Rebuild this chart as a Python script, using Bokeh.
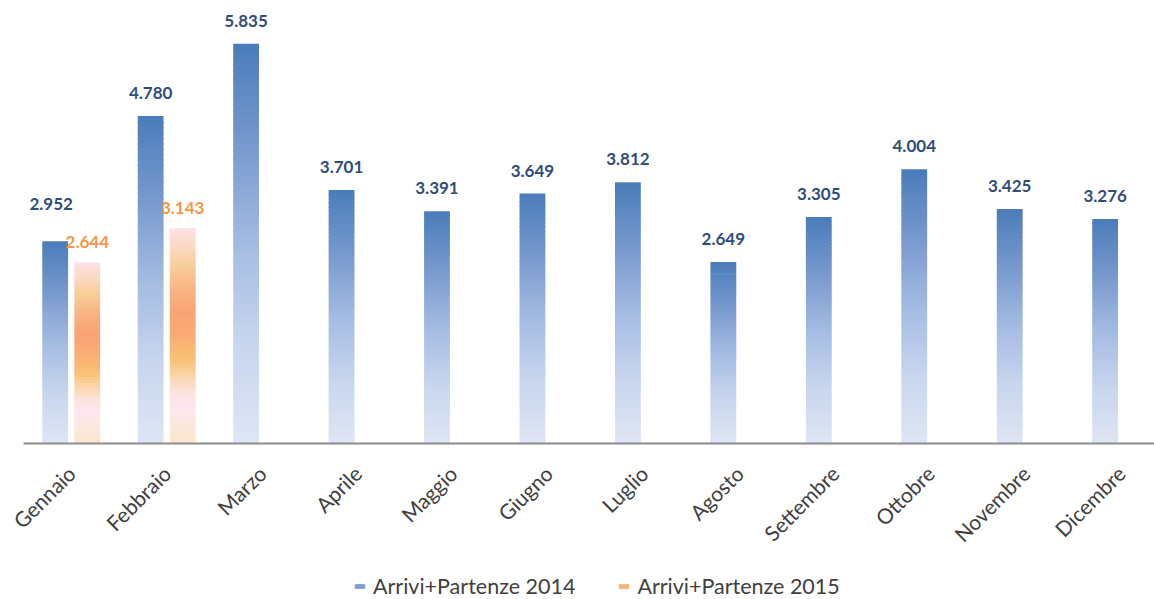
import math
from bokeh.plotting import figure
from bokeh.layouts import column
from bokeh.models import ColumnDataSource, Range1d, FixedTicker, Legend, LegendItem
from bokeh.core.properties import value
from bokeh.embed import file_html
from bokeh.resources import INLINE

months = ["Gennaio", "Febbraio", "Marzo", "Aprile", "Maggio", "Giugno",
          "Luglio", "Agosto", "Settembre", "Ottobre", "Novembre", "Dicembre"]
vals_2014 = [2952, 4780, 5835, 3701, 3391, 3649, 3812, 2649, 3305, 4004, 3425, 3276]
vals_2015 = [2644, 3143, None, None, None, None, None, None, None, None, None, None]
series_names = ["Arrivi+Partenze 2014", "Arrivi+Partenze 2015"]

# gradient stops (fraction from top of bar, colour)
BLUE_STOPS = [(0.0, "#4a7cba"), (0.25, "#7799cd"), (0.5, "#a4bbe2"), (0.75, "#c8d5ee"), (1.0, "#dfe6f4")]
ORANGE_STOPS = [(0.0, "#fde2e6"), (0.08, "#fbd9c6"), (0.17, "#f8cf9a"), (0.29, "#f9b382"),
                (0.39, "#f9a375"), (0.5, "#f9ae74"), (0.61, "#f8c173"), (0.67, "#fbd2a0"),
                (0.77, "#fde3e3"), (0.83, "#fde6ef"), (0.92, "#fbe8dc"), (1.0, "#fae6cc")]


def hex2rgb(h):
    h = h.lstrip("#")
    return tuple(int(h[i:i + 2], 16) for i in (0, 2, 4))


def interp(stops, f):
    for (f0, c0), (f1, c1) in zip(stops[:-1], stops[1:]):
        if f0 <= f <= f1:
            t = 0 if f1 == f0 else (f - f0) / (f1 - f0)
            a, b = hex2rgb(c0), hex2rgb(c1)
            r = [round(a[k] + (b[k] - a[k]) * t) for k in range(3)]
            return "#%02x%02x%02x" % tuple(r)
    return stops[-1][1]


def fmt(v):
    return f"{v:,}".replace(",", ".")


BAR_W = 0.27
OFF = 0.168
N = 60
FONT = "Lato"
W = 1154
LEFT = 23

p = figure(width=W, height=569, output_backend="svg", toolbar_location=None,
           x_range=Range1d(-0.5, 11.349), y_range=Range1d(0, 6467),
           min_border_left=LEFT, min_border_right=0, min_border_top=0, min_border_bottom=126)
p.outline_line_color = None
p.background_fill_color = "white"
p.border_fill_color = "white"
p.grid.visible = False
p.yaxis.visible = False


def gradient_bars(vals, offset, stops):
    xs, tops, bots, cols = [], [], [], []
    for i, v in enumerate(vals):
        if v is None:
            continue
        for k in range(N):
            f = (k + 0.5) / N
            xs.append(i + offset)
            top = v * (1 - k / N)
            bot = v * (1 - (k + 1) / N)
            if k < N - 1:
                bot = max(0, bot - v * 0.004)
            tops.append(top)
            bots.append(bot)
            cols.append(interp(stops, f))
    src = ColumnDataSource(dict(x=xs, top=tops, bottom=bots, color=cols))
    p.vbar(x="x", top="top", bottom="bottom", width=BAR_W, fill_color="color",
           line_color=None, source=src)


gradient_bars(vals_2014, -OFF, BLUE_STOPS)
gradient_bars(vals_2015, OFF, ORANGE_STOPS)

# data labels
lx, ly, lt, lyo, lxo = [], [], [], [], []
for i, v in enumerate(vals_2014):
    lift = 0
    xo = 0
    v2 = vals_2015[i]
    if v2 is not None and abs(v - v2) < 600:
        lift = 14
        xo = -4
    lx.append(i - OFF)
    ly.append(v)
    lt.append(fmt(v))
    lyo.append(-23 - lift)
    lxo.append(xo)
p.text(x="x", y="y", text="t", y_offset="yo", x_offset="xo",
       source=ColumnDataSource(dict(x=lx, y=ly, t=lt, yo=lyo, xo=lxo)),
       text_align="center", text_baseline="middle", text_color="#2f4d7c",
       text_font=value(FONT), text_font_style="bold", text_font_size="17px")

ox, oy, ot = [], [], []
for i, v in enumerate(vals_2015):
    if v is None:
        continue
    ox.append(i + OFF)
    oy.append(v)
    ot.append(fmt(v))
p.text(x="x", y="y", text="t", y_offset=-20,
       source=ColumnDataSource(dict(x=ox, y=oy, t=ot)),
       text_align="center", text_baseline="middle", text_color="#f79646",
       text_font=value(FONT), text_font_style="bold", text_font_size="17px")

# x axis
ax = p.xaxis[0]
ax.ticker = FixedTicker(ticks=list(range(len(months))))
ax.major_label_overrides = {i: m for i, m in enumerate(months)}
ax.major_label_orientation = math.pi / 4
ax.major_label_text_font = FONT
ax.major_label_text_font_size = "21px"
ax.major_label_text_color = "#404040"
ax.major_label_standoff = 20
ax.axis_line_color = "#8c8c8c"
ax.axis_line_width = 2
ax.major_tick_line_color = None
ax.minor_tick_line_color = None

# legend in a strip below the chart
pl = figure(width=W, height=30, output_backend="svg", toolbar_location=None,
            x_range=Range1d(0, 1), y_range=Range1d(0, 1),
            min_border_left=LEFT, min_border_right=0, min_border_top=0, min_border_bottom=0)
pl.outline_line_color = None
pl.border_fill_color = "white"
pl.axis.visible = False
pl.grid.visible = False
r1 = pl.vbar(x=[5], top=[-1], bottom=[-2], width=0.1, fill_color="#7f9fd2", line_color=None)
r2 = pl.vbar(x=[5], top=[-1], bottom=[-2], width=0.1, fill_color="#f9b079", line_color=None)
legend = Legend(items=[LegendItem(label=series_names[0], renderers=[r1]),
                       LegendItem(label=series_names[1], renderers=[r2])],
                orientation="horizontal", location=(330, 0),
                label_text_font=FONT, label_text_font_size="21.5px",
                label_text_color="#404040", glyph_width=13, glyph_height=6,
                label_standoff=7, spacing=42, border_line_color=None,
                background_fill_alpha=0, margin=0, padding=2)
pl.add_layout(legend)

layout = column(p, pl, spacing=0)
open("out.html", "w").write(file_html(layout, INLINE))
